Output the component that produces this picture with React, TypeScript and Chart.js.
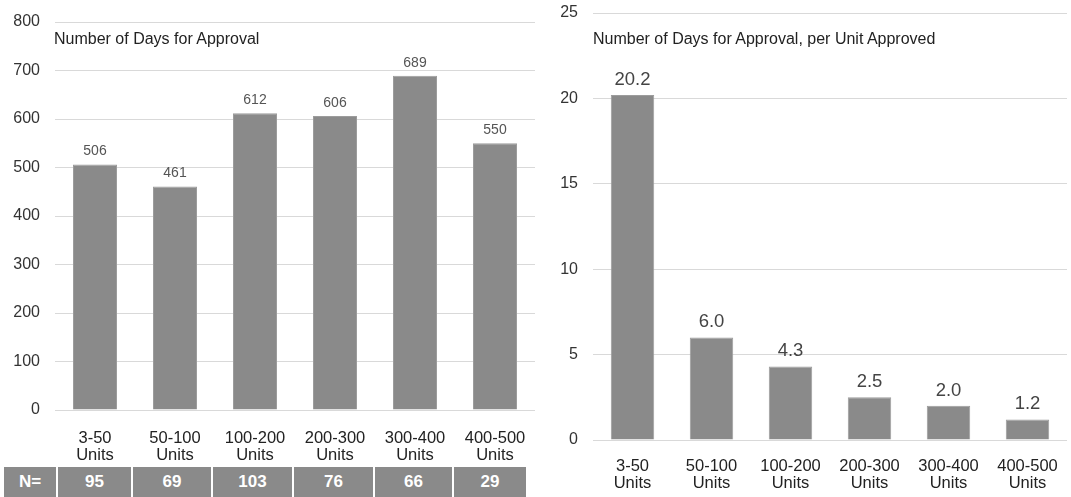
import React, { useEffect, useRef } from "react";
import { Chart, registerables } from "chart.js";

Chart.register(...registerables);

const categories: string[][] = [
  ["3-50", "Units"],
  ["50-100", "Units"],
  ["100-200", "Units"],
  ["200-300", "Units"],
  ["300-400", "Units"],
  ["400-500", "Units"],
];
const daysForApproval = [506, 461, 612, 606, 689, 550];
const daysPerUnit = [20.2, 6.0, 4.3, 2.5, 2.0, 1.2];
const nCounts = [95, 69, 103, 76, 66, 29];
const leftTitle = "Number of Days for Approval";
const rightTitle = "Number of Days for Approval, per Unit Approved";

const FONT = "'Liberation Sans', Arial, Helvetica, sans-serif";

const labelPlugin = {
  id: "valueLabels",
  afterDatasetsDraw(chart: any) {
    const o = chart.options.plugins.valueLabels || {};
    const ctx = chart.ctx;
    const meta = chart.getDatasetMeta(0);
    const data = chart.data.datasets[0].data as number[];
    ctx.save();
    ctx.font = `${o.size || 11}px ${FONT}`;
    ctx.fillStyle = o.color || "#555";
    ctx.textAlign = "center";
    ctx.textBaseline = "bottom";
    meta.data.forEach((el: any, i: number) => {
      const v = data[i];
      const txt = o.decimals ? v.toFixed(o.decimals) : String(v);
      ctx.fillText(txt, el.x, el.y - (o.offset || 6));
    });
    ctx.restore();
  },
};

function makeConfig(
  values: number[],
  max: number,
  step: number,
  yWidth: number,
  xHeight: number,
  padding: any,
  xPad: number,
  lbl: any
): any {
  return {
    type: "bar",
    data: {
      labels: categories,
      datasets: [
        {
          data: values,
          backgroundColor: "#8a8a8a",
          borderColor: "#9c9c9c",
          borderWidth: 1,
          barPercentage: 0.55,
          categoryPercentage: 1,
        },
      ],
    },
    options: {
      responsive: false,
      animation: false,
      devicePixelRatio: 1,
      layout: { padding },
      plugins: {
        legend: { display: false },
        tooltip: { enabled: false },
        title: { display: false },
        valueLabels: lbl,
      },
      scales: {
        x: {
          grid: { display: false, drawTicks: false },
          border: { display: false },
          ticks: {
            font: { family: FONT, size: 16.5, lineHeight: 1.02 },
            color: "#222",
            padding: xPad,
            maxRotation: 0,
            autoSkip: false,
          },
          afterFit: (s: any) => {
            s.height = xHeight;
            s.paddingLeft = 0;
            s.paddingRight = 0;
          },
        },
        y: {
          min: 0,
          max,
          grid: {
            color: "#d9d9d9",
            lineWidth: 1,
            drawTicks: true,
            tickLength: 12,
            tickColor: "rgba(0,0,0,0)",
          },
          border: { display: false },
          ticks: {
            stepSize: step,
            font: { family: FONT, size: 16, lineHeight: 1.1 },
            color: "#333",
            padding: 3,
          },
          afterFit: (s: any) => {
            s.width = yWidth;
          },
        },
      },
    },
    plugins: [labelPlugin],
  };
}

export default function App() {
  const leftRef = useRef<HTMLCanvasElement>(null);
  const rightRef = useRef<HTMLCanvasElement>(null);

  useEffect(() => {
    document.body.style.margin = "0";
    const c1 = new Chart(
      leftRef.current!,
      makeConfig(daysForApproval, 800, 100, 55, 56, { top: 22, right: 5, left: 0, bottom: 0 }, 20, {
        size: 14,
        color: "#555",
        offset: 6,
        decimals: 0,
      })
    );
    const c2 = new Chart(
      rightRef.current!,
      makeConfig(daysPerUnit, 25, 5, 53, 57, { top: 13, right: 4, left: 0, bottom: 0 }, 18, {
        size: 18.5,
        color: "#444",
        offset: 6,
        decimals: 1,
      })
    );
    return () => {
      c1.destroy();
      c2.destroy();
    };
  }, []);

  const cellEdges = [4, 57, 132, 212, 293, 374, 453, 527];
  const cellTexts = ["N=", ...nCounts.map(String)];

  const titleStyle: React.CSSProperties = {
    position: "absolute",
    top: 30,
    fontSize: 16,
    lineHeight: "18px",
    color: "#222",
    whiteSpace: "nowrap",
  };

  return (
    <div
      style={{
        position: "fixed",
        left: 0,
        top: 0,
        width: 1071,
        height: 497,
        background: "#fff",
        fontFamily: FONT,
        overflow: "hidden",
      }}
    >
      <canvas
        ref={leftRef}
        width={540}
        height={466}
        style={{ position: "absolute", left: 0, top: 0, width: 540, height: 466 }}
      />
      <canvas
        ref={rightRef}
        width={531}
        height={497}
        style={{ position: "absolute", left: 540, top: 0, width: 531, height: 497 }}
      />
      <div style={{ ...titleStyle, left: 54 }}>{leftTitle}</div>
      <div style={{ ...titleStyle, left: 593 }}>{rightTitle}</div>
      {cellTexts.map((t, i) => (
        <div
          key={i}
          style={{
            position: "absolute",
            left: cellEdges[i] + (i === 0 ? 0 : 1),
            top: 467,
            width: cellEdges[i + 1] - cellEdges[i] - (i === 0 ? 1 : 2),
            height: 30,
            background: "#8a8a8a",
            color: "#fff",
            fontWeight: "bold",
            fontSize: 17,
            lineHeight: "30px",
            textAlign: "center",
          }}
        >
          {t}
        </div>
      ))}
    </div>
  );
}
